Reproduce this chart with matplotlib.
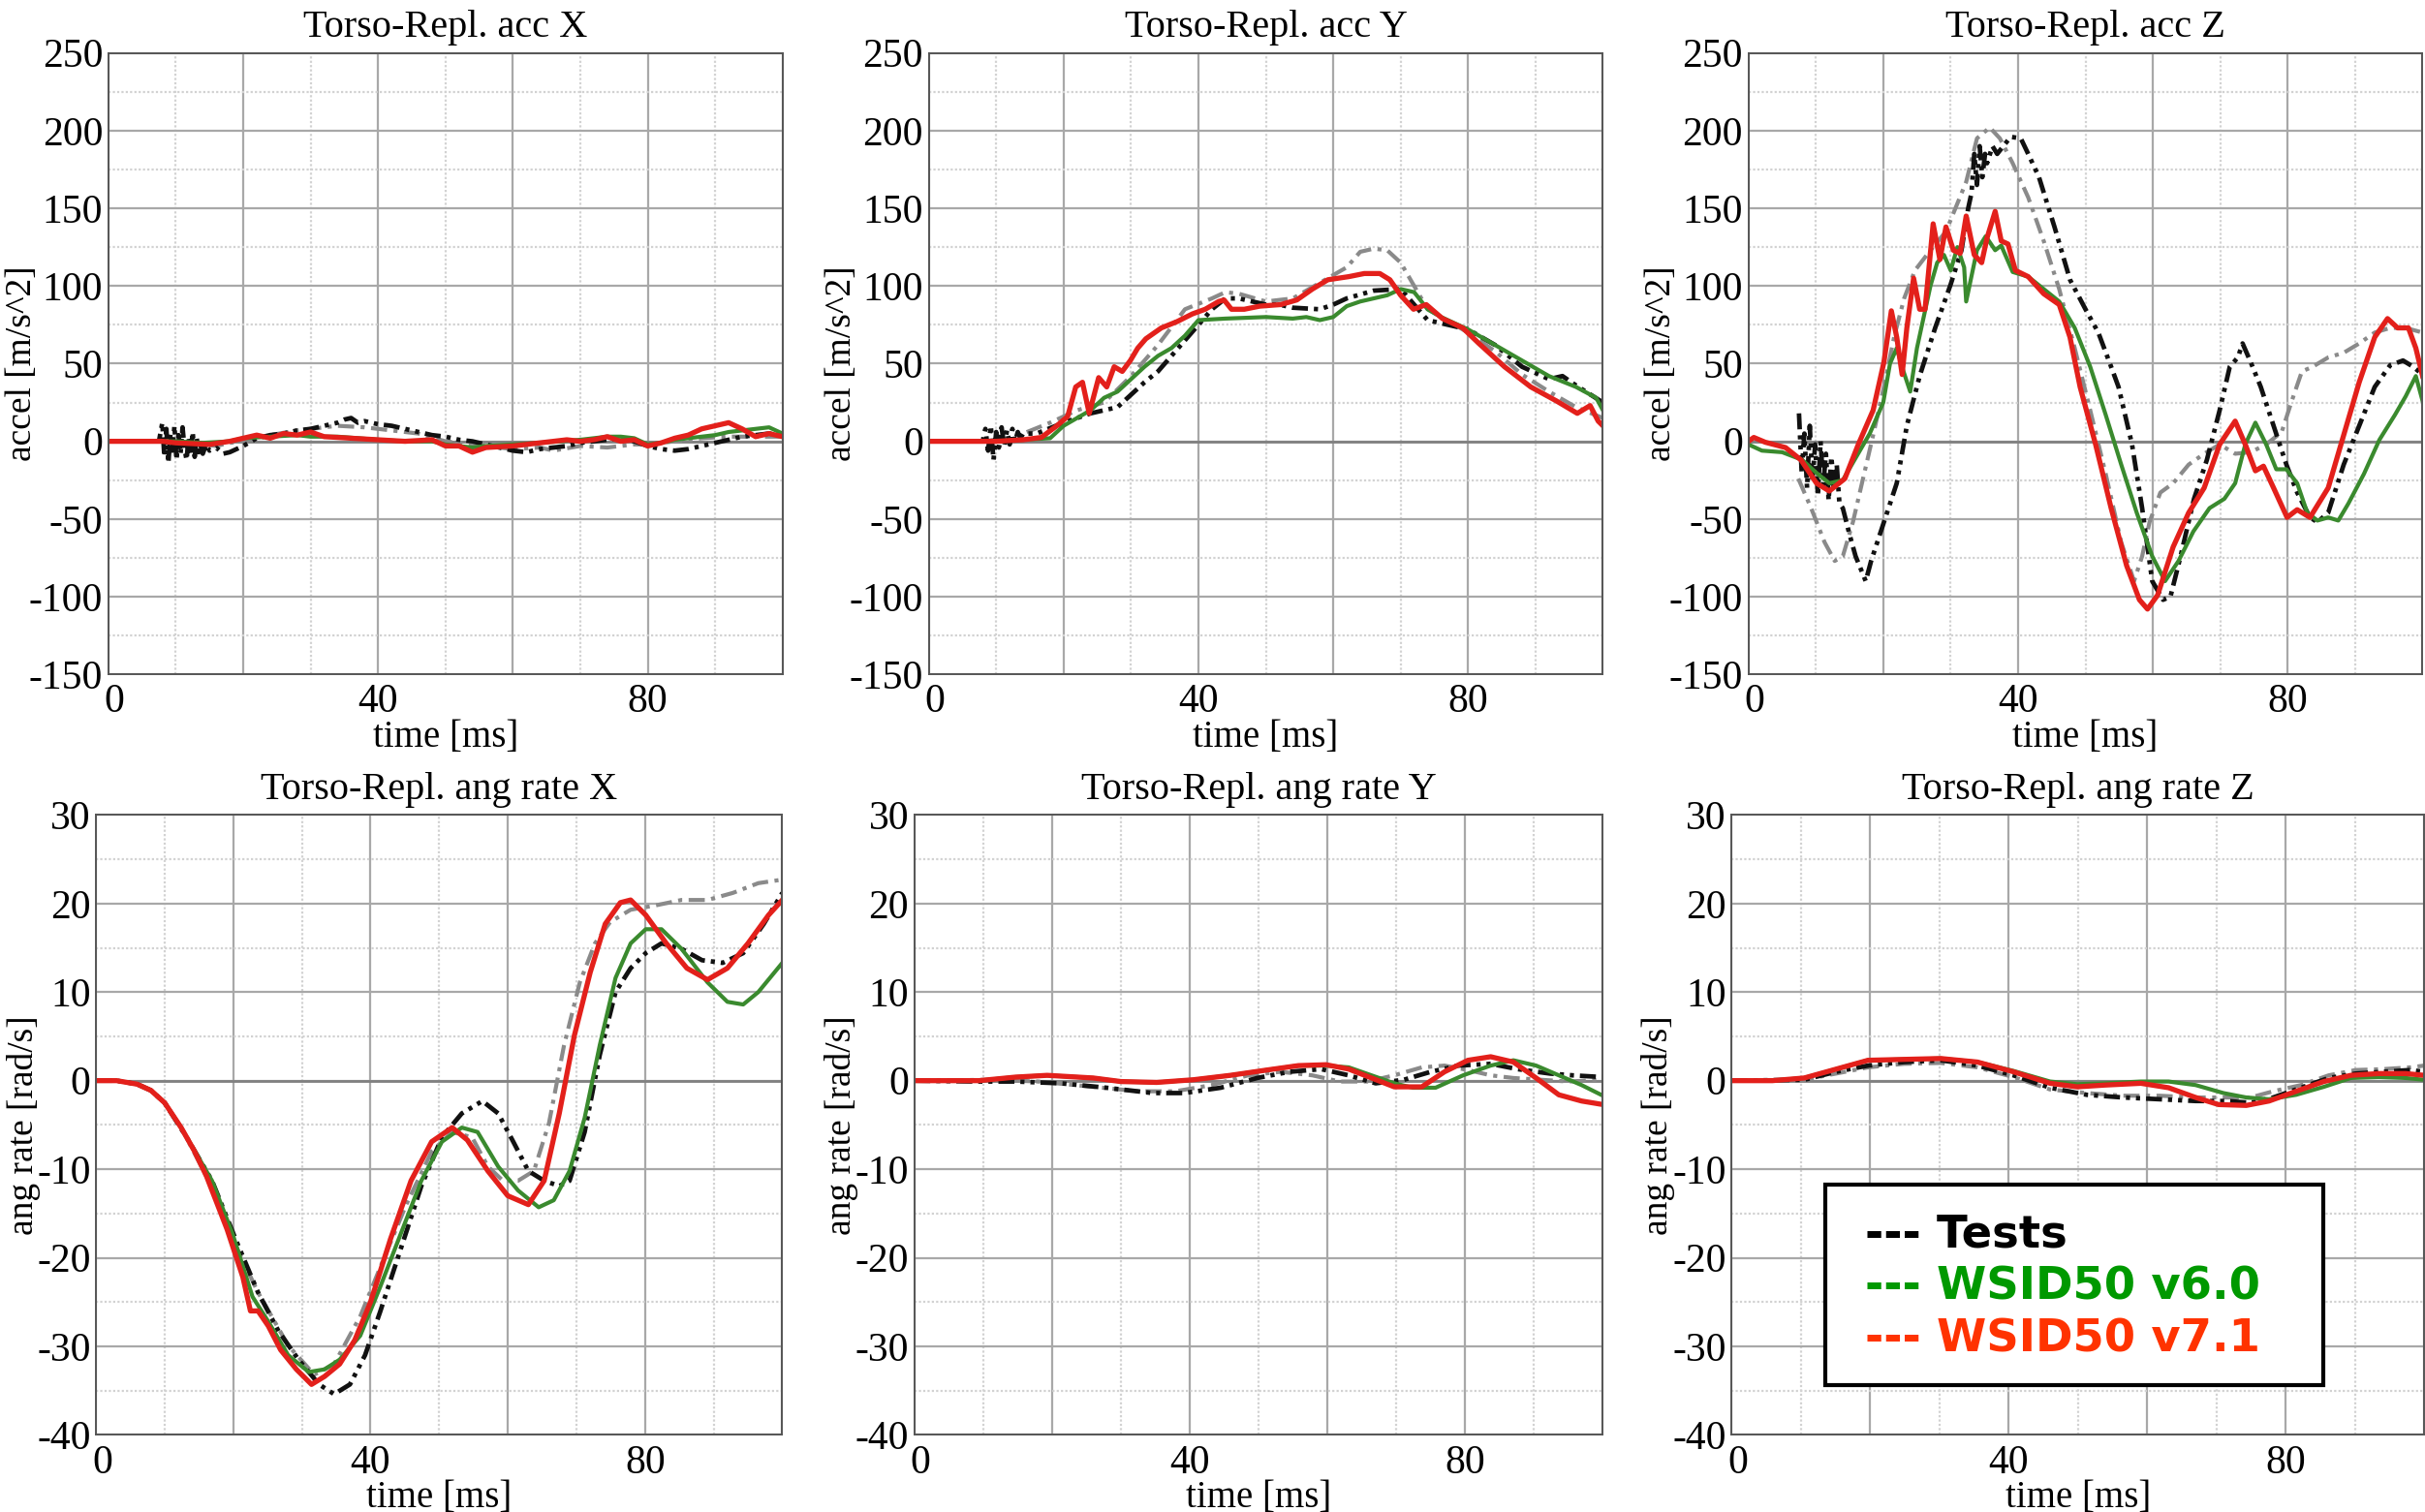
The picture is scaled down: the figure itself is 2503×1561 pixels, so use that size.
import numpy as np
import matplotlib.pyplot as plt
from matplotlib.ticker import MultipleLocator, FuncFormatter
from matplotlib.patches import Rectangle

plt.rcParams['font.family'] = ['Liberation Serif', 'DejaVu Serif']
plt.rcParams['axes.unicode_minus'] = False

# curves as (time [ms], value) pairs

# --- Torso acc X
accx_gray = [(0, 0), (10, 0), (14, -2), (16, -3), (18, -1), (20, 0), (24, 4), (28, 7), (30, 8),
             (34, 10), (38, 9), (40, 8), (44, 6), (46, 5), (50, 0), (54, -2), (56, -3), (60, -5),
             (64, -4), (66, -6), (70, -3), (74, -4), (78, -2), (80, -2), (84, 0), (88, 2),
             (92, 3), (96, 3), (100, 3)]
accx_black = [(0, 0), (7.5, 0), (8, 12), (8.3, -10), (8.6, 8), (8.9, -14), (9.2, 5), (9.5, -6),
              (9.8, 10), (10.1, -12), (10.4, 4), (10.7, -8), (11, 9), (11.3, -5), (11.6, -12),
              (11.9, 3), (12.2, -9), (12.5, 6), (12.8, -10), (13.1, 2), (13.4, -7), (13.7, -3),
              (14, -8), (14.5, -2), (15, -6), (16, -4), (17, -8), (18, -7), (19, -5), (20, -3),
              (22, 2), (24, 4), (26, 5), (28, 7), (30, 8), (32, 10), (34, 12), (35, 14),
              (36, 15), (37, 12), (38, 13), (40, 11), (42, 10), (44, 8), (46, 6), (48, 4),
              (50, 3), (52, 1), (54, 0), (56, -2), (58, -4), (60, -6), (62, -7), (64, -5),
              (66, -4), (68, -3), (70, -1), (72, 0), (74, 1), (76, 2), (78, 0), (80, -3),
              (82, -5), (84, -6), (86, -5), (88, -3), (90, -1), (92, 1), (94, 3), (96, 4),
              (98, 5), (100, 4)]
accx_green = [(0, 0), (10, 0), (14, -1), (18, 0), (20, 2), (24, 3), (28, 4), (30, 3), (34, 3),
              (40, 1), (44, 0), (48, 0), (50, -2), (54, -4), (56, -3), (60, -2), (64, -1),
              (70, 1), (74, 3), (76, 3), (78, 2), (80, -2), (82, -1), (84, 1), (88, 3), (90, 4),
              (92, 6), (94, 7), (96, 8), (98, 9), (100, 5)]
accx_red = [(0, 0), (5, 0), (8, 0), (10, -1), (15, -2), (18, 0), (20, 2), (22, 4), (24, 2),
            (26, 5), (28, 4), (30, 6), (32, 3), (36, 2), (40, 1), (44, 0), (48, 1), (50, -3),
            (52, -3), (54, -7), (56, -4), (60, -3), (64, -1), (68, 1), (70, 0), (72, 1), (74, 3),
            (76, 0), (78, 1), (80, -3), (82, -1), (84, 2), (86, 4), (88, 8), (90, 10), (92, 12),
            (94, 8), (96, 3), (98, 5), (100, 3)]

# --- Torso acc Y
accy_gray = [(0, 0), (10, 0), (14, 5), (18, 12), (22, 20), (26, 25), (30, 42), (34, 62),
             (38, 85), (42, 92), (44, 96), (46, 95), (50, 90), (54, 92), (58, 102), (62, 112),
             (64, 122), (66, 124), (68, 123), (70, 115), (72, 100), (74, 85), (76, 80), (80, 70),
             (84, 58), (88, 43), (92, 32), (96, 22), (100, 15)]
accy_black = [(0, 0), (8, 0), (8.4, 8), (8.8, -6), (9.2, 10), (9.6, -12), (10, 6), (10.4, -4),
              (10.8, 9), (11.2, -3), (11.6, 7), (12, -2), (12.4, 8), (12.8, 0), (13.2, 6),
              (13.6, 2), (14, 5), (16, 5), (20, 12), (24, 18), (28, 22), (30, 30), (32, 38),
              (34, 45), (36, 55), (38, 65), (40, 75), (42, 85), (44, 92), (46, 92), (50, 88),
              (52, 88), (54, 86), (58, 85), (60, 88), (62, 92), (66, 97), (70, 98), (72, 88),
              (74, 78), (76, 76), (80, 72), (84, 62), (88, 48), (92, 40), (94, 42), (96, 36),
              (100, 25)]
accy_green = [(0, 0), (10, 0), (18, 2), (20, 10), (22, 15), (24, 20), (26, 28), (28, 32),
              (30, 40), (32, 48), (34, 55), (36, 60), (38, 68), (40, 78), (44, 79), (50, 80),
              (54, 79), (56, 80), (58, 78), (60, 80), (62, 87), (64, 90), (68, 94), (70, 98),
              (72, 96), (74, 85), (76, 80), (80, 72), (84, 62), (88, 52), (92, 42), (96, 35),
              (99, 28), (100, 20)]
accy_red = [(0, 0), (10, 0), (14, 1), (16.7, 2.5), (19, 10), (20.6, 16), (21.8, 35), (22.8, 38),
            (23.8, 18), (25.2, 41), (26.4, 35), (27.5, 48), (28.7, 45), (29.9, 52), (31, 60),
            (32.2, 66), (34.5, 73), (36.8, 77), (39.1, 82), (41, 85), (43, 90), (43.8, 91),
            (44.9, 85), (46.8, 85), (49.1, 87), (52.2, 88), (54.6, 91), (56.9, 98), (59.2, 104),
            (62.3, 106), (64.6, 108), (66.9, 108), (68.4, 104), (70, 94), (71.9, 85),
            (73.8, 88), (76.2, 79), (79.2, 73), (81.6, 63), (85.4, 48), (89.3, 35), (93.1, 26),
            (96.2, 18), (98.1, 23), (99.3, 13), (100, 10)]

# --- Torso acc Z
accz_gray = [(7.4, -24), (9.3, -43), (11.3, -65), (12.8, -77), (14, -74), (15.5, -52), (17, -24),
             (18.5, 4), (20.1, 35), (21.6, 67), (23.1, 92), (24.7, 110), (27, 123), (29.3, 135),
             (30.8, 151), (32.3, 167), (33.9, 195), (35.8, 202), (37.3, 195), (39.2, 179),
             (41.5, 157), (43.8, 129), (46.1, 98), (48.4, 60), (50.7, 20), (53, -21),
             (55.3, -65), (57.2, -90), (58.4, -74), (59.5, -52), (61.1, -33), (63, -27),
             (65.3, -15), (67.6, -8), (69.9, -2), (72.2, -8), (74.5, -7), (76.8, -2), (79.1, 6),
             (80.6, 26), (82.1, 45), (83.7, 48), (86, 54), (88.3, 57), (90.6, 63), (92.9, 70),
             (95.2, 73), (97.5, 73), (100, 70)]
accz_black = [(7.5, 18), (7.9, -20), (8.3, 5), (8.7, -30), (9.1, 10), (9.5, -25), (9.9, -2),
              (10.3, -35), (10.7, 0), (11.1, -28), (11.5, -8), (11.9, -38), (12.3, -10),
              (12.7, -30), (13.1, -15), (13.5, -40), (14, -43), (15, -60), (15.9, -74),
              (17.4, -90), (18.2, -77), (20.1, -52), (22, -27), (23.5, 10), (25.4, 42),
              (27.7, 73), (30, 101), (31.6, 123), (32.6, 150), (33.1, 160), (33.5, 185),
              (33.9, 165), (34.3, 190), (34.7, 170), (35.1, 185), (35.4, 179), (36.2, 190),
              (36.9, 185), (38.9, 196), (40.4, 195), (41.5, 185), (43.1, 170), (45.4, 138),
              (47.7, 104), (50, 85), (51.9, 70), (53.8, 48), (54.9, 35), (56.9, -2),
              (58.4, -43), (59.9, -90), (61.5, -102), (62.6, -100), (64.1, -74), (66.1, -37),
              (68, -12), (69.9, 20), (71.4, 48), (72.6, 54), (73.3, 63), (74.5, 51), (76, 35),
              (77.9, 10), (79.8, -15), (81.4, -33), (83.3, -49), (84.4, -52), (86, -46),
              (88.3, -15), (90.6, 10), (92.9, 35), (95.2, 49), (97.1, 52), (98.6, 48),
              (100, 43)]
accz_green = [(0, -2), (2, -6), (5, -7), (8, -12), (10, -20), (12, -27), (14, -25), (16, -10),
              (18, 5), (20, 25), (21, 50), (22, 60), (23, 45), (24, 32), (25, 60), (26, 80),
              (27, 100), (28, 115), (29, 120), (30, 110), (31, 125), (32, 112), (32.3, 90),
              (33.9, 123), (35.2, 132), (36.6, 123), (37.5, 126), (39.2, 109), (41.5, 106),
              (43.8, 98), (46.1, 90), (48.4, 73), (50.7, 48), (53, 17), (55.3, -15),
              (57.6, -46), (59.9, -74), (61.8, -90), (63.8, -77), (66, -58), (68.4, -43),
              (70.6, -37), (72.2, -27), (73.7, -2), (75.2, 12), (76.8, -2), (78.3, -18),
              (79.8, -18), (81.4, -27), (82.9, -46), (84.4, -51), (86, -49), (87.5, -51),
              (89, -40), (91.3, -21), (93.6, 1), (95.9, 17), (97.5, 29), (99, 42), (100, 26)]
accz_red = [(0, 0), (0.8, 2.5), (2.5, -0.6), (5.5, -4), (7.8, -12), (10.1, -27), (12, -32),
            (14.3, -24), (16.3, -2), (18.5, 20), (20.1, 51), (21.2, 84), (22, 67), (22.8, 43),
            (23.5, 73), (24.5, 105), (25.4, 85), (26.2, 85), (27.4, 140), (28.4, 117),
            (29.3, 138), (30.4, 123), (31.4, 121), (32.3, 145), (33.5, 120), (34.6, 115),
            (35.4, 131), (36.6, 148), (37.5, 129), (38.5, 127), (39.6, 110), (41.5, 106),
            (43.8, 95), (46.1, 88), (47.7, 67), (49.2, 35), (51.5, -2), (53.8, -43),
            (56.1, -80), (58, -102), (59.2, -108), (60.7, -99), (63, -68), (65.3, -46),
            (67.6, -30), (69.9, -2), (72.2, 13), (73.7, -2), (75.2, -19), (76.4, -16),
            (77.9, -30), (79.9, -49), (81.4, -44), (83.3, -49), (86, -30), (88.3, 4),
            (90.6, 38), (92.9, 67), (94.8, 79), (96.3, 73), (97.9, 73), (99, 60), (100, 42)]

# --- Torso angular rate X
wx_gray = [(0, 0), (3, 0), (6, -0.4), (8, -1.1), (10, -2.5), (12.4, -5.3), (16.1, -10.8),
           (19.9, -17.9), (23.6, -23.9), (28, -29.9), (31.8, -33.2), (34.7, -32), (38.5, -26.6),
           (41.4, -21.1), (45.2, -14), (48.9, -8), (51.9, -5.8), (54.8, -6.4), (57.1, -9.7),
           (59.3, -11.3), (61.5, -11.3), (63.8, -10.2), (66, -4.8), (68.2, 4), (70.5, 11.1),
           (72.7, 15.5), (74.9, 17.9), (77.9, 19.3), (81.6, 19.8), (85.3, 20.4), (89.1, 20.4),
           (92.8, 21.2), (96.5, 22.3), (100, 22.7)]
wx_black = [(0, 0), (3, 0), (6, -0.4), (8, -1.1), (10, -2.5), (13.2, -6.4), (16.9, -11.3),
            (20.6, -18.4), (23.6, -23.9), (26.6, -28.3), (29.5, -31.5), (32.5, -34.3),
            (34.7, -35.4), (37, -34.3), (39.2, -31), (41.4, -26.1), (44.4, -19), (47.4, -11.9),
            (50.4, -6.4), (53.3, -3.7), (56.3, -2.3), (58.6, -3.7), (60.8, -6.9), (63, -10.2),
            (65.3, -11.3), (67.5, -11.9), (69, -11.3), (71.2, -5.8), (73.4, 2.9), (75.7, 10),
            (77.9, 12.7), (80.1, 14.4), (82.4, 15.5), (85.3, 14.9), (88.3, 13.6), (91.3, 13.3),
            (94.3, 14.4), (97.3, 17.7), (100, 21.2)]
wx_green = [(0, 0), (3, 0), (6, -0.4), (8, -1.1), (10, -2.5), (12.4, -5.3), (14.5, -8.1),
            (16.9, -11.3), (19.9, -17.3), (22.8, -24.4), (25.1, -27.2), (28, -31), (31, -32.9),
            (33.3, -32.6), (35.5, -31.5), (38.5, -28.8), (41.4, -23.3), (44.4, -17.3),
            (47.4, -11.3), (50.4, -6.9), (53.3, -5.3), (55.6, -5.8), (58.6, -9.7),
            (61.5, -12.4), (64.5, -14.3), (66.7, -13.5), (69, -10.2), (71.2, -4.2), (73.4, 4),
            (75.7, 11.6), (77.9, 15.5), (80.1, 17.1), (82.4, 17.1), (85.3, 14.9), (89.1, 11.1),
            (92, 8.9), (94.3, 8.6), (96.5, 10), (100, 13.3)]
wx_red = [(0, 0), (3, 0), (6, -0.4), (8, -1.1), (10, -2.5), (12.4, -5.3), (14.3, -7.9),
          (16.1, -10.8), (19.1, -16.8), (21.4, -22.2), (22.5, -26), (23.6, -26), (25.1, -27.7),
          (26.9, -30.4), (29.2, -32.6), (31.4, -34.3), (33.3, -33.4), (35.5, -32), (37.7, -29.3),
          (40, -25), (42.9, -17.9), (45.9, -11.3), (48.9, -6.9), (51.9, -5.3), (54.1, -6.7),
          (57.1, -10.2), (60, -13), (63, -14), (65.3, -11.3), (67.5, -3.7), (69.7, 5.1),
          (72, 12.2), (74.2, 17.7), (76.4, 20.1), (77.9, 20.4), (80.1, 18.7), (83.1, 15.5),
          (86.1, 12.7), (89.1, 11.4), (92, 12.7), (95, 15.5), (98, 18.7), (100, 20.4)]

# --- Torso angular rate Y
wy_gray = [(0, 0), (11.4, 0.1), (18, -0.1), (26, -0.7), (32.6, -1.2), (37.9, -1.2), (43.2, -0.5),
           (48.5, 0.6), (53.2, 1), (57.8, 0.6), (61.8, -0.1), (65.8, -0.1), (69.7, 0.6),
           (73.7, 1.5), (77, 1.7), (80.4, 1.2), (83.7, 0.6), (87, 0.3), (91, 0.1), (95, -0.1),
           (100, 0.1)]
wy_black = [(0, 0), (9.4, -0.1), (14.7, -0.1), (21.3, -0.3), (27.9, -0.8), (34.6, -1.4),
            (39.2, -1.4), (44.5, -0.8), (49.8, 0.3), (54.5, 1), (59.1, 1.3), (63.1, 0.6),
            (67, -0.3), (71.1, 0.1), (75, 1), (79, 1.7), (83.7, 1.9), (87.6, 1.3), (92.3, 0.8),
            (95.6, 0.6), (100, 0.4)]
wy_green = [(0, 0), (9.4, 0), (14.7, 0.4), (19.3, 0.6), (26, 0.3), (30, -0.1), (35.2, -0.2),
            (40.5, 0.1), (45.9, 0.6), (51.2, 1.2), (55.8, 1.7), (59.8, 1.7), (63.1, 1.5),
            (66.4, 0.6), (69.7, -0.3), (72.4, -0.8), (75.7, -0.8), (79.7, 0.6), (83.7, 1.7),
            (87, 2.3), (90.3, 1.7), (93.6, 0.6), (96.9, -0.5), (100, -1.7)]
wy_red = [(0, 0), (9.4, 0), (14.7, 0.4), (19.3, 0.6), (26, 0.3), (30, -0.1), (35.2, -0.2),
          (40.5, 0.1), (45.9, 0.6), (51.2, 1.2), (55.8, 1.7), (59.8, 1.8), (63.1, 1.3),
          (66.4, 0.3), (69.7, -0.7), (73.7, -0.7), (77, 1), (80.4, 2.3), (83.7, 2.7), (87, 2.1),
          (90.3, 0.3), (93.6, -1.6), (96.9, -2.3), (100, -2.7)]

# --- Torso angular rate Z
wz_gray = [(0, 0), (10.5, 0.1), (15.1, 0.8), (19.7, 1.5), (24.9, 1.9), (30.2, 2), (35.5, 1.5),
           (40.7, 0.4), (46, -1), (51.3, -1.4), (56.5, -1.7), (61.8, -1.7), (67, -1.9),
           (74.9, -1.9), (78.2, -1.2), (82.2, -0.5), (86.2, 0.6), (90.1, 1.2), (94, 1.3),
           (98, 1.5), (100, 1.7)]
wz_black = [(0, 0), (10.5, 0.1), (15.1, 1), (19.7, 1.7), (24.9, 2.1), (30.2, 2.3), (35.5, 1.7),
            (40.7, 0.6), (46, -0.8), (51.3, -1.6), (56.5, -1.9), (61.8, -2.1), (67, -2.3),
            (71.6, -2.3), (74.9, -2.5), (78.2, -1.9), (82.2, -0.8), (86.2, 0.3), (90.1, 0.8),
            (94, 1), (98, 1.2), (100, 1)]
wz_green = [(0, 0), (5.9, 0), (10.5, 0.3), (15.1, 1.3), (19.7, 2.3), (24.9, 2.4), (30.2, 2.5),
            (35.5, 2.1), (40.7, 1.1), (46, -0.1), (49.9, -0.4), (53.9, -0.3), (59.1, -0.1),
            (63.1, -0.1), (67, -0.5), (71, -1.4), (74.3, -1.9), (77.6, -2.1), (81.5, -1.6),
            (85.5, -0.7), (89.4, 0.3), (93.4, 0.4), (97.3, 0.3), (100, 0.1)]
wz_red = [(0, 0), (5.9, 0), (10.5, 0.3), (15.1, 1.3), (19.7, 2.3), (24.9, 2.4), (30.2, 2.5),
          (35.5, 2.1), (40.7, 1), (46, -0.3), (49.9, -0.7), (53.9, -0.5), (59.1, -0.3),
          (63.1, -0.8), (67, -1.9), (70.3, -2.7), (74.3, -2.8), (77.6, -2.3), (81.5, -1.2),
          (85.5, -0.1), (89.4, 0.6), (93.4, 0.8), (97.3, 0.8), (100, 0.6)]

titles = ['Torso-Repl. acc X', 'Torso-Repl. acc Y', 'Torso-Repl. acc Z',
          'Torso-Repl. ang rate X', 'Torso-Repl. ang rate Y', 'Torso-Repl. ang rate Z']
legend_names = ['Tests', 'WSID50 v6.0', 'WSID50 v7.1']
legend_colors = ['black', '#009900', '#ff3300']

series = [
    (accx_gray, accx_black, accx_green, accx_red),
    (accy_gray, accy_black, accy_green, accy_red),
    (accz_gray, accz_black, accz_green, accz_red),
    (wx_gray, wx_black, wx_green, wx_red),
    (wy_gray, wy_black, wy_green, wy_red),
    (wz_gray, wz_black, wz_green, wz_red),
]

positions = [
    [0.0447, 0.554, 0.278, 0.411], [0.383, 0.554, 0.278, 0.411], [0.721, 0.554, 0.278, 0.411],
    [0.0396, 0.051, 0.283, 0.410], [0.377, 0.051, 0.284, 0.410], [0.714, 0.051, 0.2857, 0.410],
]

styles = [
    dict(color='#8a8a8a', lw=3.0, dashes=(4, 1.6, 1, 1.6)),
    dict(color='#111111', lw=3.4, dashes=(3.5, 1.3, 0.9, 1.3, 0.9, 1.3)),
    dict(color='#3a8a2e', lw=3.0),
    dict(color='#e3201b', lw=3.8),
]

fig = plt.figure(figsize=(25.03, 15.61), dpi=100)

for i, (pos, title, data) in enumerate(zip(positions, titles, series)):
    ax = fig.add_axes(pos)
    top_row = i < 3
    for d, st in zip(data, styles):
        arr = np.array(d, dtype=float)
        ax.plot(arr[:, 0], arr[:, 1], solid_joinstyle='round', **st)

    ax.set_xlim(0, 100)
    if top_row:
        ax.set_ylim(-150, 250)
        ax.yaxis.set_major_locator(MultipleLocator(50))
        ax.yaxis.set_minor_locator(MultipleLocator(25))
        ax.set_ylabel('accel [m/s^2]', fontsize=27)
        ax.yaxis.set_label_coords(-0.104, 0.5)
    else:
        ax.set_ylim(-40, 30)
        ax.yaxis.set_major_locator(MultipleLocator(10))
        ax.yaxis.set_minor_locator(MultipleLocator(5))
        ax.set_ylabel('ang rate [rad/s]', fontsize=27)
        ax.yaxis.set_label_coords(-0.081, 0.5)
    ax.xaxis.set_major_locator(MultipleLocator(20))
    ax.xaxis.set_minor_locator(MultipleLocator(10))
    # the "0" at the corner is placed by hand below so it clears the lowest y label
    ax.xaxis.set_major_formatter(FuncFormatter(lambda v, p: f'{v:.0f}' if v % 40 == 0 and 0 < v < 100 else ''))
    ax.annotate('0', xy=(0, 0), xycoords='axes fraction', xytext=(4.5, -7),
                textcoords='offset points', ha='center', va='top', fontsize=30)

    ax.grid(which='major', color='#a8a8a8', lw=1.6)
    ax.grid(which='minor', color='#d2d2d2', lw=1.6, ls=(0, (1, 1)))
    ax.axhline(0, color='#808080', lw=2.0, zorder=1.5)
    ax.set_axisbelow(True)

    ax.tick_params(which='both', length=0, labelsize=30)
    ax.tick_params(axis='x', pad=7)
    ax.tick_params(axis='y', pad=4)
    ax.set_xlabel('time [ms]', fontsize=28, labelpad=-1)
    ax.set_title(title, fontsize=29, pad=12)
    for sp in ax.spines.values():
        sp.set_color('#555555')
        sp.set_linewidth(1.4)

# legend box drawn as text block
fig.patches.append(Rectangle((1884 / 2503, 1 - 1430 / 1561), 514 / 2503, 207 / 1561,
                             transform=fig.transFigure, facecolor='white',
                             edgecolor='black', lw=3, zorder=5))
for k, (name, col) in enumerate(zip(legend_names, legend_colors)):
    fig.text(1925 / 2503, 1 - (1275 + 54 * k) / 1561, '--- ' + name, color=col,
             fontsize=33.5, fontweight='bold', family=['DejaVu Sans'], va='center', zorder=6)

fig.savefig('out.png', dpi=100)
